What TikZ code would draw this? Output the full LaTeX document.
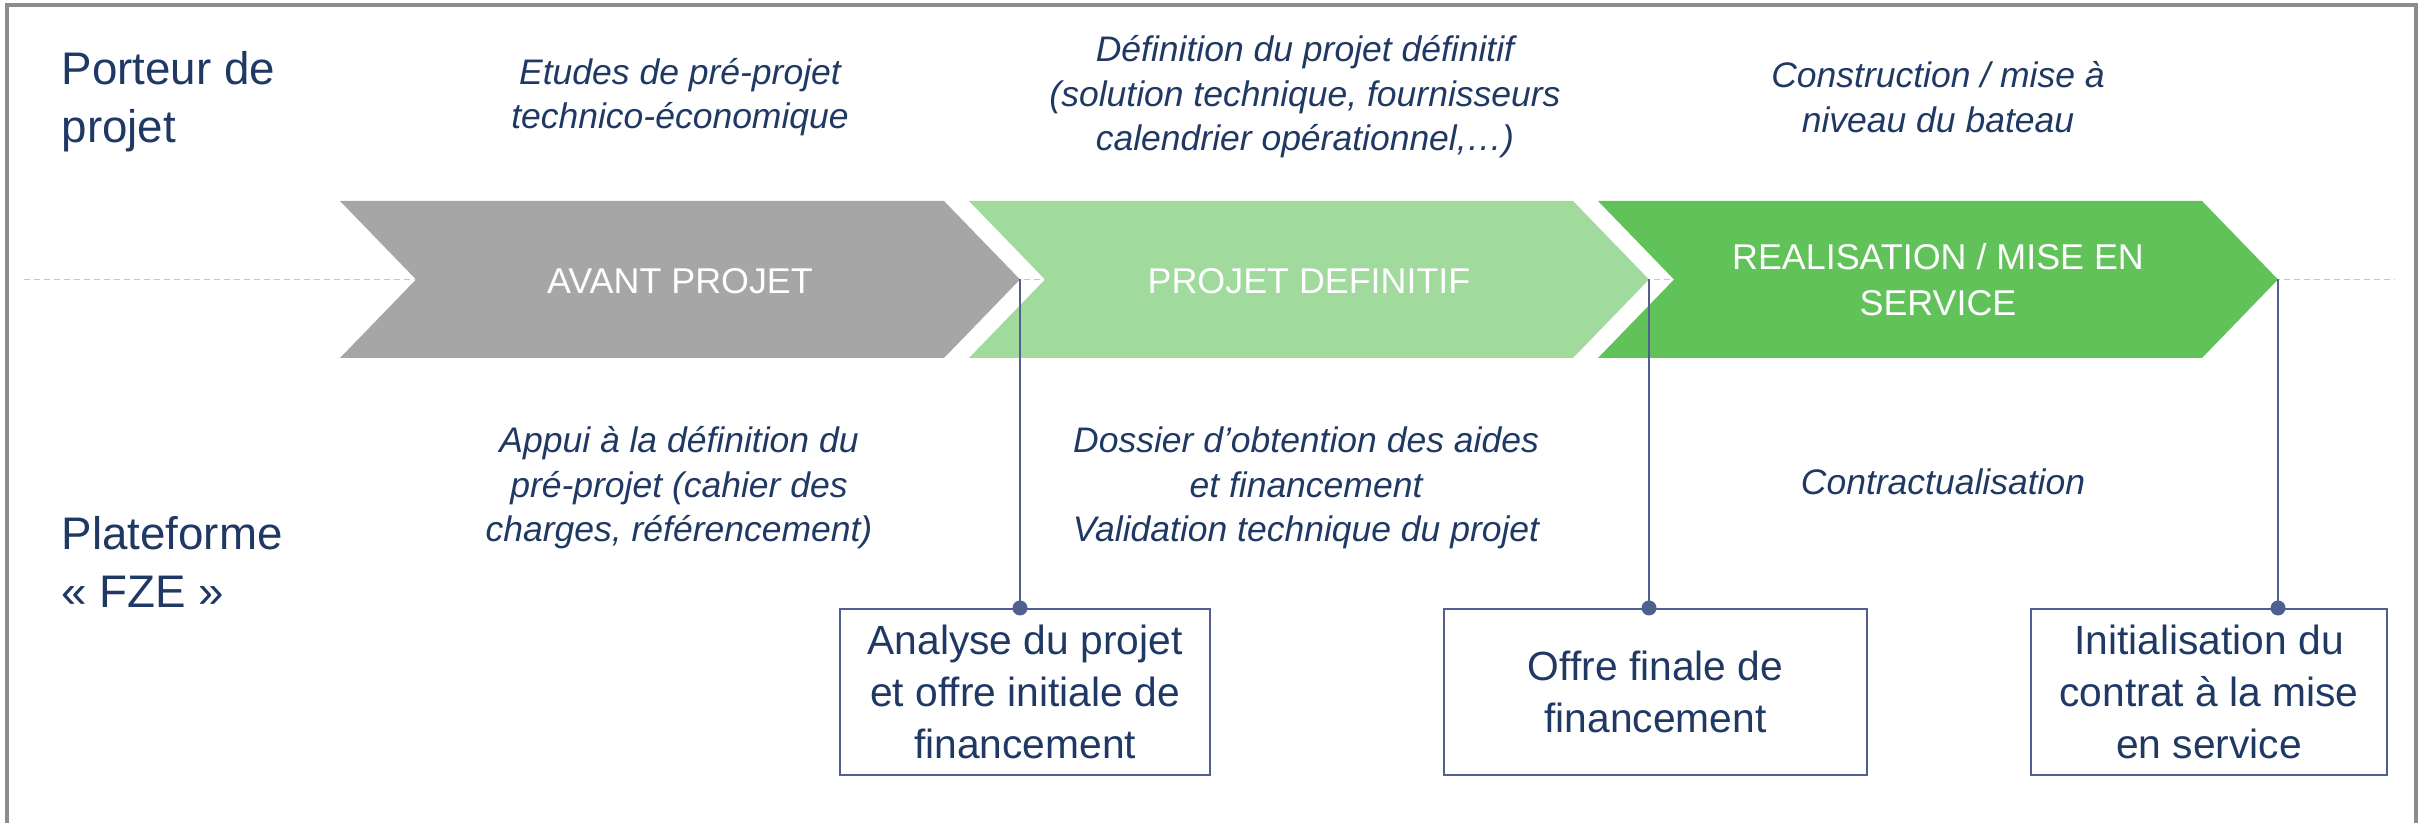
\documentclass[tikz,border=0pt]{standalone}
\usepackage{fontspec}
\setmainfont{Liberation Sans}
\usetikzlibrary{calc}
\definecolor{navy}{HTML}{1F3864}
\definecolor{slate}{HTML}{4F5F8F}
\definecolor{framegray}{HTML}{8C8C8C}
\definecolor{avantcol}{HTML}{A6A6A6}
\definecolor{defcol}{HTML}{A0DA9C}
\definecolor{realcol}{HTML}{62C25A}
\tikzset{
    frame line/.style={framegray, line width=0.9pt},
    axis line/.style={black!22, line width=0.55pt, dash pattern=on 0.6mm off 0.4mm},
    phase text/.style={white, font=\fontsize{10.2pt}{13.1pt}\selectfont, align=center, inner sep=0pt},
    actor/.style={navy, font=\fontsize{13pt}{16.5pt}\selectfont, align=left, anchor=west, inner sep=0pt},
    task/.style={navy, font=\fontsize{10.1pt}{12.66pt}\selectfont\itshape, align=center, inner sep=0pt},
    milestone/.style={draw=slate, line width=0.6pt, text=navy, font=\fontsize{11.6pt}{14.8pt}\selectfont, align=center, minimum height=16.6mm, inner sep=0pt, anchor=north west},
    link/.style={slate, line width=0.6pt},
    dot/.style={circle, fill=slate, inner sep=0pt, minimum size=1.5mm},
}

\begin{document}
\begin{tikzpicture}[x=0.1mm, y=-0.1mm]
    \useasboundingbox (0,0) rectangle (2425,823);
    \draw[frame line] (7,823) -- (7,5) -- (2416,5) -- (2416,823);
    % time axis behind the phases
    \coordinate (axisL) at (24,279.5);
    \coordinate (axisR) at (2395,279.5);
    \draw[axis line] (axisL) -- (axisR);
    % phases
    \foreach \px/\col/\nm in {340/avantcol/avant, 969/defcol/def, 1598/realcol/real}{
        \fill[\col] (\px,201) -- ++(604,0) -- ++(76,78.5) -- ++(-76,78.5)
            -- ++(-604,0) -- ++(76,-78.5) -- cycle;
        \coordinate (\nm-tip) at (\px+680,279.5);
    }
    \node[phase text] (avant) at (680,281) {AVANT PROJET};
    \node[phase text] (def) at (1309,281) {PROJET DEFINITIF};
    \node[phase text] (real) at (1938,280) {REALISATION / MISE EN\\SERVICE};

    \node[actor] (porteur) at (61,102) {Porteur de\\projet};
    \node[actor] (fze) at (61,562) {Plateforme\\« FZE »};

    \node[task] (etudes) at (680,97) {Etudes de pré-projet\\technico-économique};
    \node[task] (definition) at (1305,97) {Définition du projet définitif\\(solution technique, fournisseurs\\calendrier opérationnel,…)};
    \node[task] (construction) at (1938,97) {Construction / mise à\\niveau du bateau};
    \node[task] (appui) at (679,488) {Appui à la définition du\\pré-projet (cahier des\\charges, référencement)};
    \node[task] (dossier) at (1306,488) {Dossier d’obtention des aides\\et financement\\Validation technique du projet};
    \node[task, anchor=base] (contrat) at (1943,495) {Contractualisation};

    \node[milestone, minimum width=37mm] (analyse) at (839,608) {Analyse du projet\\et offre initiale de\\financement};
    \node[milestone, minimum width=42.3mm] (offre) at (1443,608) {Offre finale de\\financement};
    \node[milestone, minimum width=35.6mm] (init) at (2030,608) {Initialisation du\\contrat à la mise\\en service};

    \draw[link] (avant-tip) -- (avant-tip |- analyse.north) node[dot] {};
    \draw[link] (def-tip) -- (def-tip |- offre.north) node[dot] {};
    \draw[link] (real-tip) -- (real-tip |- init.north) node[dot] {};
\end{tikzpicture}
\end{document}
